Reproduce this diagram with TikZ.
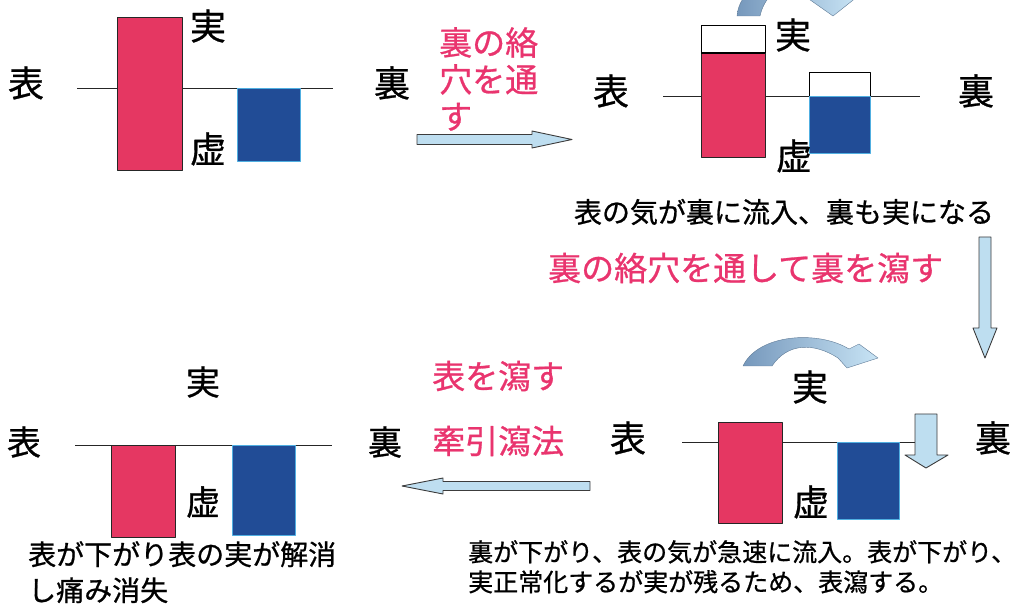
\documentclass[tikz,border=0pt]{standalone}
\usepackage{fontspec}
\setmainfont{Noto Sans CJK JP}
\newfontfamily\jpheavy{Noto Sans CJK JP}[FakeBold=0.8]

\definecolor{barred}{RGB}{229,55,98}
\definecolor{barblue}{RGB}{33,76,150}
\definecolor{edgecyan}{RGB}{80,175,225}
\definecolor{inkpink}{RGB}{233,52,110}
\definecolor{arrowfill}{RGB}{190,222,240}
\definecolor{arrowline}{RGB}{60,60,60}
\definecolor{benddark}{RGB}{118,152,188}
\definecolor{bendlight}{RGB}{200,228,245}

\begin{document}
\begin{tikzpicture}[x=1pt,y=-1pt,line join=round,
		lbl/.style={inner sep=0pt,font=\jpheavy\fontsize{36}{36}\selectfont},
		lblsmall/.style={inner sep=0pt,font=\jpheavy\fontsize{34}{34}\selectfont},
		pinktext/.style={inner sep=0pt,text=inkpink,align=left,font=\jpheavy\fontsize{33}{37}\selectfont},
		redbar/.style={fill=barred,draw=black!85,line width=0.8pt},
		bluebar/.style={fill=barblue,draw=edgecyan,line width=0.7pt},
		emptybox/.style={fill=white,draw=black,line width=0.9pt},
		baseline/.style={draw=black!85,line width=0.9pt},
		blockarrow/.style={fill=arrowfill,draw=arrowline,line width=0.9pt},
		bendarrow/.style={left color=benddark,right color=bendlight,draw=benddark!80!black,line width=0.4pt}]
			\useasboundingbox (0,0) rectangle (1021,612);
			
			% top left: before
			\draw [baseline] (77,88) -- (333,88);
			\draw [redbar] (117,17) rectangle (182,170);
			\draw [bluebar] (237,88) rectangle (300,161);
			\node [lbl] (jitsuA) at (208,26) {実};
			\node [lbl] (kyoA) at (208,149) {虚};
			
			% top right: ura becomes jitsu too
			\draw [baseline] (663,96) -- (920,96);
			\draw [emptybox] (701,25) rectangle (765,53);
			\draw [redbar] (701,53) rectangle (765,157);
			\draw [line width=1.6pt] (701,53) -- (765,53);
			\draw [emptybox] (809,72) rectangle (870,96);
			\draw [bluebar] (809,96) rectangle (870,153);
			\node [lbl] (jitsuB) at (793,35) {実};
			\node [lbl] (kyoB) at (794,156) {虚};
			\begin{scope}
				\clip (0,0) rectangle (1021,612);
				\path [bendarrow] (737,16) .. controls (741,-32) and (832,-42) .. (844,-3)
					-- (857,-3) -- (833,16) -- (806,-3) -- (818,-3)
					.. controls (808,-22) and (768,-20) .. (760,16) -- cycle;
			\end{scope}
			
			% bottom right: after opening ura
			\draw [baseline] (682,442) -- (915,442);
			\draw [redbar] (718,422) rectangle (782,523);
			\draw [bluebar] (837,442) rectangle (899,519);
			\node [lbl] (jitsuC) at (810,387) {実};
			\node [lbl] (kyoC) at (811,502) {虚};
			\path [bendarrow] (743,366) .. controls (758,334) and (818,330) .. (849,349)
				-- (859,344) -- (878,358) -- (847,368) -- (838,358)
				.. controls (815,343) and (788,342) .. (772,366) -- cycle;
			\draw [blockarrow] (915,414) -- (937,414) -- (937,455) -- (948,455) -- (926,468)
				-- (905,455) -- (915,455) -- cycle;
			
			% bottom left: result
			\draw [baseline] (75,445) -- (332,445);
			\draw [redbar] (111,445) rectangle (175,537);
			\draw [bluebar] (232,445) rectangle (295,535);
			\node [lblsmall] (jitsuD) at (203,382) {実};
			\node [lblsmall] (kyoD) at (203,502) {虚};
			\node [lblsmall] (omoteD) at (24,442) {表};
			\node [lblsmall] (uraD) at (385,442) {裏};
			
			\foreach \p/\xa/\xb/\y in {A/26/392/83, B/611/976/91, C/628/993/438}{
				\node [lbl] (omote\p) at (\xa,\y) {表};
				\node [lbl] (ura\p) at (\xb,\y) {裏};}
			
			% arrows between the stages
			\draw [blockarrow] (417,134.5) -- (532,134.5) -- (532,131) -- (572,139.5)
				-- (532,148) -- (532,144.5) -- (417,144.5) -- cycle;
			\draw [blockarrow] (979,237) -- (991,237) -- (991,328) -- (997,328) -- (985,358)
				-- (973,328) -- (979,328) -- cycle;
			\draw [blockarrow] (590,481.5) -- (443,481.5) -- (443,478) -- (402,486)
				-- (443,494) -- (443,490.5) -- (590,490.5) -- cycle;
			
			% texts
			\node [pinktext,anchor=north west] (step1) at (439,27) {裏の絡\\穴を通\\す};
			\node [pinktext,anchor=west] (step2) at (548,268) {裏の絡穴を通して裏を瀉す};
			\node [pinktext,anchor=west] (step3a) at (432,376) {表を瀉す};
			\node [pinktext,anchor=west] (step3b) at (432,441) {牽引瀉法};
			\node [inner sep=0pt,font=\jpheavy\fontsize{28}{28}\selectfont] (noteB) at (784,212) {表の気が裏に流入、裏も実になる};
			\node [inner sep=0pt,anchor=north west,align=left,font=\jpheavy\fontsize{25}{30}\selectfont] (noteC) at (468,540)
				{裏が下がり、表の気が急速に流入。表が下がり、\\実正常化するが実が残るため、表瀉する。};
			\node [inner sep=0pt,anchor=north west,align=left,font=\jpheavy\fontsize{28}{36}\selectfont] (noteD) at (28,541)
				{表が下がり表の実が解消\\し痛み消失};
		\end{tikzpicture}
\end{document}
